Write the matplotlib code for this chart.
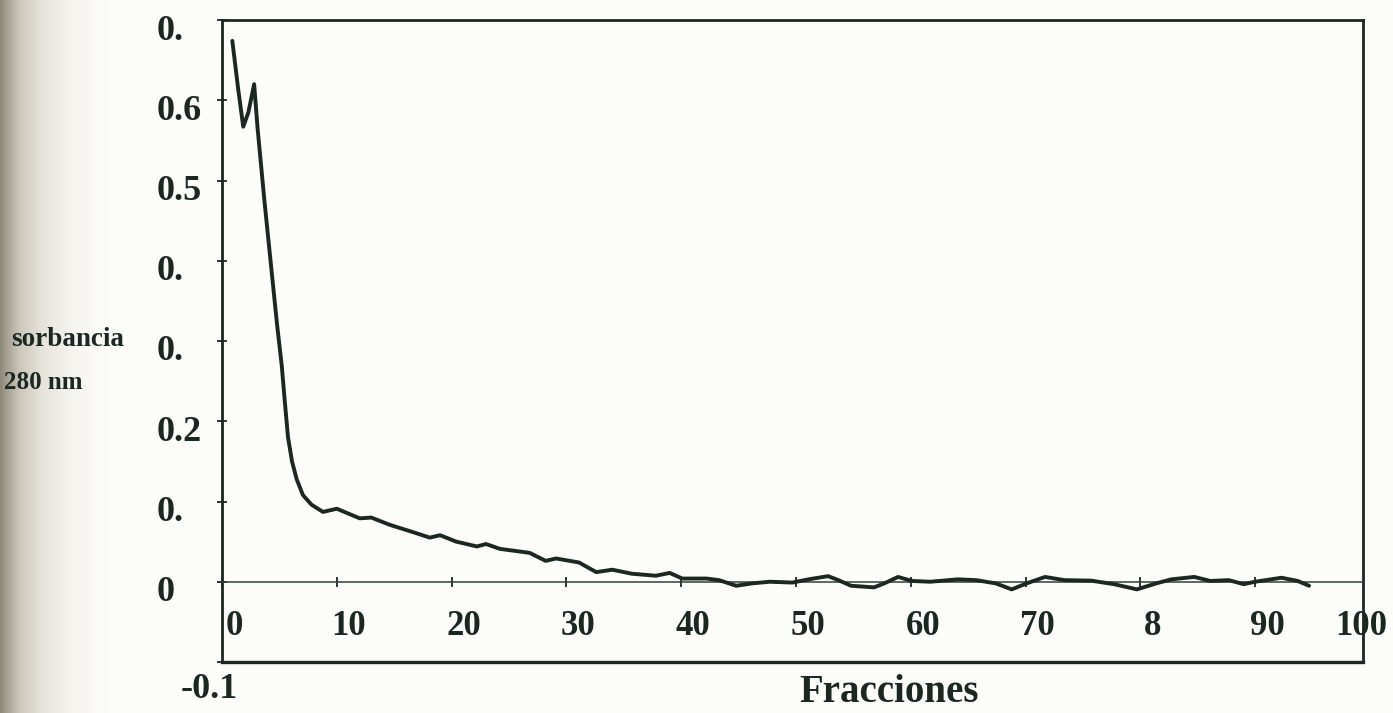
import numpy as np
import matplotlib
matplotlib.use("Agg")
import matplotlib.pyplot as plt
from matplotlib.colors import LinearSegmentedColormap
import matplotlib.transforms as mtransforms

# ---- data ----
fraccion = [0.9, 1.4, 1.85, 2.3, 2.8, 3.1, 3.7, 4.3, 4.8, 5.2, 5.5, 5.75, 6.1,
            6.5, 7.05, 7.8, 8.8, 10.0, 11.0,
            12.0, 13.0, 14.6, 16.6, 18.1, 19.0, 20.4, 22.2, 23.0, 24.2, 26.8,
            28.2, 29.1, 31.1, 32.6, 34.0, 35.7, 37.8, 39.0, 40.1, 42.2, 43.3,
            44.8, 46.2, 47.7, 49.7, 51.1, 52.8, 53.7, 54.8, 56.8, 57.7, 58.9,
            60.1, 61.7, 64.1, 65.7, 67.4, 68.8, 70.1, 71.7, 73.4, 75.7, 77.7,
            79.7, 81.4, 82.7, 84.7, 86.1, 87.7, 89.0, 90.0, 92.3, 93.7, 94.7]
absorbancia = [0.674, 0.615, 0.567, 0.585, 0.620, 0.565, 0.474, 0.390, 0.320,
               0.270, 0.220, 0.180, 0.150, 0.128, 0.108, 0.096, 0.087, 0.091,
               0.085, 0.079, 0.080, 0.071, 0.062, 0.055,
               0.058, 0.050, 0.044, 0.047, 0.041, 0.036, 0.026, 0.029, 0.024,
               0.012, 0.015, 0.010, 0.0075, 0.011, 0.004, 0.004, 0.002, -0.005,
               -0.002, 0.0, -0.001, 0.003, 0.007, 0.002, -0.005, -0.007, -0.002,
               0.006, 0.001, 0.0, 0.003, 0.002, -0.002, -0.0095, -0.002, 0.006,
               0.002, 0.0014, -0.003, -0.0095, -0.002, 0.003, 0.006, 0.001,
               0.002, -0.003, 0.0, 0.005, 0.001, -0.005]

x_ticks = [0, 10, 20, 30, 40, 50, 60, 70, 80, 90, 100]
x_tick_labels = ["0", "10", "20", "30", "40", "50", "60", "70", "8", "90", "100"]
y_ticks = [0.7, 0.6, 0.5, 0.4, 0.3, 0.2, 0.1, 0.0, -0.1]
y_tick_labels = ["0.", "0.6", "0.5", "0.", "0.", "0.2", "0.", "0", "-0.1"]

W, H, DPI = 1393, 713, 100
PAPER = "#fcfcfa"
fig = plt.figure(figsize=(W / DPI, H / DPI), dpi=DPI, facecolor=PAPER)

# scanned-page binding shadow on the left edge
bg = fig.add_axes([0, 0, 1, 1], zorder=-10)
bg.set_axis_off()
cmap = LinearSegmentedColormap.from_list(
    "spine", [(0.0, "#8d8778"), (0.07, "#aaa496"), (0.18, "#cdc8bb"),
              (0.38, "#e6e3da"), (0.65, "#f5f4ef"), (1.0, PAPER)])
grad = np.linspace(0, 1, 512)[None, :]
bg.imshow(grad, aspect="auto", cmap=cmap, extent=[0, 110 / W, 0, 1],
          interpolation="bilinear")
bg.set_xlim(0, 1)
bg.set_ylim(0, 1)

INK = "#1b2723"
FONT = "Liberation Serif"

left, right = 222 / W, 1363 / W
bottom, top = 1 - 662 / H, 1 - 20 / H
ax = fig.add_axes([left, bottom, right - left, top - bottom])
ax.set_facecolor("none")
ax.set_xlim(0, 99.4)
ax.set_ylim(-0.1, 0.7)

ax.plot(fraccion, absorbancia, color=INK, lw=2.8, solid_joinstyle="round",
        solid_capstyle="round", zorder=3)

# frame
for s in ("left", "top", "right"):
    ax.spines[s].set_color(INK)
    ax.spines[s].set_linewidth(2.0)
ax.spines["bottom"].set_position(("data", 0))
ax.spines["bottom"].set_color("#33403c")
ax.spines["bottom"].set_linewidth(1.1)
ax.plot([0, 1], [0, 0], transform=ax.transAxes, color=INK, lw=2.4,
        clip_on=False, zorder=4, solid_capstyle="projecting")

ax.set_xticks([t for t in x_ticks if t <= 99.4])
ax.set_yticks(y_ticks)
ax.tick_params(axis="both", direction="inout", length=7, width=1.3,
               color=INK, labelleft=False, labelbottom=False)

# tick labels placed as in the scan
px = 1.0 / DPI  # inch per pixel
for v, lab in zip(x_ticks, x_tick_labels):
    dx = -9 if v == 100 else 12
    off = mtransforms.ScaledTranslation(dx * px, -45 * px, fig.dpi_scale_trans)
    ax.text(v, 0, lab, transform=ax.transData + off, ha="center", va="center",
            fontsize=25, fontweight="bold", family=FONT, color=INK,
            clip_on=False)

for v, lab in zip(y_ticks, y_tick_labels):
    dy = -28 if v == -0.1 else -11
    xl = 181 if v == -0.1 else 157
    off = mtransforms.ScaledTranslation(0, dy * px, fig.dpi_scale_trans)
    ax.text((xl - 222) / (1363 - 222), v, lab,
            transform=ax.get_yaxis_transform() + off, ha="left", va="center",
            fontsize=26, fontweight="bold", family=FONT, color=INK,
            clip_on=False)

# axis titles (only the part visible on the scanned page)
fig.text(11 / W, 1 - 340 / H, "sorbancia", ha="left", va="center",
         fontsize=19.5, fontweight="bold", family=FONT, color=INK)
fig.text(4 / W, 1 - 382 / H, "280 nm", ha="left", va="center",
         fontsize=18, fontweight="bold", family=FONT, color=INK)
fig.text(889 / W, 1 - 711 / H, "Fracciones", ha="center", va="bottom",
         fontsize=28, fontweight="bold", family=FONT, color=INK)

fig.savefig("out.png", dpi=DPI, facecolor=fig.get_facecolor())
